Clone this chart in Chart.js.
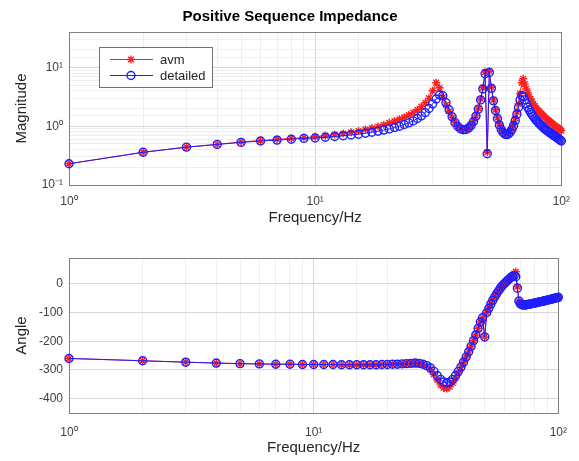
<!DOCTYPE html>
<html lang="en">
<head>
<meta charset="UTF-8">
<title>Positive Sequence Impedance</title>
<script src="https://cdn.jsdelivr.net/npm/chart.js@4"></script>
<style>
    body { margin: 0; background: #fff; }
    #wrap { position: relative; width: 579px; height: 461px; }
    canvas { position: absolute; left: 0; }
    #magChart { top: 0; }
    #angChart { top: 230px; }
</style>
</head>
<body>
<div id="wrap">
    <canvas id="magChart" width="579" height="230"></canvas>
    <canvas id="angChart" width="579" height="231"></canvas>
</div>
<script>
// frequency points, Hz
const freq = [
    1, 2, 3, 4, 5, 6, 7, 8, 9, 10,
    11, 12, 13, 14, 15, 16, 17, 18, 19, 20,
    21, 22, 23, 24, 25, 26, 27, 28, 29, 30,
    31, 32, 33, 34, 35, 36, 37, 38, 39, 40,
    41, 42, 43, 44, 45, 46, 47, 48, 49, 50,
    51, 52, 53, 54, 55, 56, 57, 58, 59, 60,
    61, 62, 63, 64, 65, 66, 67, 68, 69, 70,
    71, 72, 73, 74, 75, 76, 77, 78, 79, 80,
    81, 82, 83, 84, 85, 86, 87, 88, 89, 90,
    91, 92, 93, 94, 95, 96, 97, 98, 99, 100
];

// magnitude
const avmMag = [
    0.23, 0.36, 0.44, 0.49, 0.54, 0.57, 0.60, 0.62, 0.64, 0.66,
    0.69, 0.72, 0.75, 0.79, 0.83, 0.88, 0.93, 0.99, 1.06, 1.14,
    1.22, 1.31, 1.42, 1.55, 1.70, 1.90, 2.15, 2.50, 3.00, 4.00,
    5.50, 4.50, 3.10, 2.30, 1.80, 1.42, 1.17, 1.01, 0.93, 0.89,
    0.90, 0.95, 1.05, 1.22, 1.50, 2.00, 2.90, 4.50, 8.30, 0.36,
    8.60, 4.60, 2.80, 1.90, 1.40, 1.10, 0.92, 0.82, 0.77, 0.76,
    0.78, 0.84, 0.94, 1.10, 1.35, 1.75, 2.40, 3.60, 5.50, 6.40,
    5.20, 4.30, 3.70, 3.20, 2.90, 2.60, 2.40, 2.20, 2.05, 1.92,
    1.81, 1.71, 1.62, 1.54, 1.47, 1.40, 1.34, 1.28, 1.23, 1.18,
    1.14, 1.10, 1.06, 1.02, 0.99, 0.96, 0.93, 0.90, 0.87, 0.84
];
const detMag = [
    0.23, 0.36, 0.44, 0.49, 0.53, 0.56, 0.58, 0.60, 0.62, 0.63,
    0.65, 0.67, 0.69, 0.71, 0.73, 0.76, 0.79, 0.82, 0.86, 0.90,
    0.95, 1.00, 1.07, 1.14, 1.23, 1.35, 1.50, 1.70, 2.00, 2.40,
    2.90, 3.40, 3.30, 2.50, 1.90, 1.45, 1.15, 0.99, 0.90, 0.87,
    0.88, 0.93, 1.03, 1.20, 1.48, 1.95, 2.80, 4.30, 7.80, 0.34,
    8.20, 4.40, 2.70, 1.85, 1.35, 1.05, 0.88, 0.78, 0.73, 0.72,
    0.74, 0.79, 0.88, 1.02, 1.25, 1.60, 2.10, 2.80, 3.30, 3.20,
    2.80, 2.40, 2.10, 1.90, 1.72, 1.58, 1.46, 1.36, 1.27, 1.20,
    1.13, 1.07, 1.02, 0.97, 0.93, 0.89, 0.86, 0.83, 0.80, 0.77,
    0.75, 0.72, 0.70, 0.68, 0.66, 0.64, 0.62, 0.60, 0.58, 0.56
];

// angle, degrees
const avmAng = [
    -260, -268, -273, -276, -278, -279, -280, -280, -281, -281,
    -281, -281, -282, -282, -282, -282, -282, -282, -281, -281,
    -280, -280, -279, -278, -277, -276, -277, -280, -287, -298,
    -315, -335, -352, -363, -365, -358, -345, -328, -310, -292,
    -273, -255, -237, -218, -198, -178, -155, -133, -118, -185,
    -100, -85, -70, -57, -45, -34, -24, -15, -7, 0,
    6, 12, 18, 24, 30, 36, 42, -10, -60, -70,
    -73, -74, -74, -73, -72, -71, -70, -69, -68, -67,
    -66, -65, -64, -63, -62, -61, -60, -59, -58, -57,
    -56, -55, -54, -53, -52, -51, -50, -49, -48, -47
];
const detAng = [
    -260, -268, -273, -276, -278, -279, -280, -280, -281, -281,
    -281, -281, -282, -282, -282, -282, -282, -282, -281, -281,
    -280, -280, -279, -278, -277, -276, -277, -280, -285, -293,
    -305, -320, -333, -342, -345, -342, -333, -320, -305, -290,
    -273, -255, -237, -218, -198, -178, -155, -133, -118, -185,
    -100, -85, -70, -57, -45, -34, -24, -15, -7, 0,
    6, 12, 17, 22, 26, 28, 25, -15, -60, -70,
    -73, -74, -74, -73, -72, -71, -70, -69, -68, -67,
    -66, -65, -64, -63, -62, -61, -60, -59, -58, -57,
    -56, -55, -54, -53, -52, -51, -50, -49, -48, -47
];

const angTicks = [-400, -300, -200, -100, 0];

const FONT = '"Liberation Sans", Arial, sans-serif';
const RED = '#ff1e1e';
const BLUE = '#1e1eff';
const TXT = '#262626';

const SUP = { '-': '\u207b', '0': '\u2070', '1': '\u00b9', '2': '\u00b2' };
function isDecade(v) {
    const l = Math.log10(v);
    return Math.abs(l - Math.round(l)) < 1e-6;
}
function decadeLabel(v) {
    if (!isDecade(v)) return '';
    return '10' + String(Math.round(Math.log10(v))).split('').map(c => SUP[c]).join('');
}
function logGrid(ctx) {
    return ctx.tick && isDecade(ctx.tick.value) ? '#d6d6d6' : '#eeeeee';
}
function pts(ys) {
    return freq.map((f, i) => ({ x: f, y: ys[i] }));
}
// detailed (blue) is plotted after avm, so it sits on top
function datasets(a, d) {
    return [
        {
            label: 'avm', data: pts(a), order: 1,
            borderColor: RED, backgroundColor: RED, borderWidth: 1,
            pointStyle: 'star', pointRadius: 4, pointBorderColor: RED,
            pointBackgroundColor: RED, pointBorderWidth: 1.4, clip: 8
        },
        {
            label: 'detailed', data: pts(d), order: 0,
            borderColor: BLUE, backgroundColor: BLUE, borderWidth: 1,
            pointStyle: 'circle', pointRadius: 4, pointBorderColor: BLUE,
            pointBackgroundColor: 'rgba(0,0,0,0)', pointBorderWidth: 1.4, clip: 8
        }
    ];
}

// axes box, drawn like the matlab one
const boxPlugin = {
    id: 'box',
    beforeDatasetsDraw(chart) {
        const a = chart.chartArea, c = chart.ctx;
        c.save();
        c.strokeStyle = '#808080';
        c.lineWidth = 1;
        c.strokeRect(Math.round(a.left) + 0.5, Math.round(a.top) + 0.5,
            Math.round(a.right - a.left), Math.round(a.bottom - a.top));
        c.restore();
    }
};

const legendPlugin = {
    id: 'boxLegend',
    afterDraw(chart) {
        const a = chart.chartArea, c = chart.ctx;
        const x = Math.round(a.left) + 30, y = Math.round(a.top) + 15, w = 113, h = 40;
        c.save();
        c.fillStyle = '#fff';
        c.fillRect(x, y, w, h);
        c.strokeStyle = '#707070';
        c.lineWidth = 1;
        c.strokeRect(x + 0.5, y + 0.5, w, h);
        c.font = '13px ' + FONT;
        c.textBaseline = 'middle';
        chart.data.datasets.forEach((ds, i) => {
            const ly = y + 12 + i * 16;
            c.strokeStyle = ds.borderColor;
            c.lineWidth = 1;
            c.beginPath();
            c.moveTo(x + 11, ly + 0.5);
            c.lineTo(x + 54, ly + 0.5);
            c.stroke();
            c.fillStyle = ds.pointBackgroundColor;
            c.lineWidth = 1.4;
            Chart.helpers.drawPoint(c, { pointStyle: ds.pointStyle, radius: 4, borderWidth: 1.4, rotation: 0 }, x + 32, ly + 0.5);
            c.fillStyle = TXT;
            c.fillText(ds.label, x + 61, ly + 1);
        });
        c.restore();
    }
};

function xAxis(tickPad, height) {
    return {
        type: 'logarithmic', min: 1, max: 100,
        border: { display: false },
        grid: { color: logGrid, drawTicks: false },
        ticks: {
            autoSkip: false, maxRotation: 0, padding: tickPad,
            color: '#404040', font: { family: FONT, size: 12 },
            callback: v => decadeLabel(v)
        },
        title: {
            display: true, text: 'Frequency/Hz', color: TXT, padding: 0,
            font: { family: FONT, size: 15 }
        },
        afterFit: s => { s.height = height; }
    };
}
function yTitle(text) {
    return { display: true, text: text, color: TXT, padding: 0, font: { family: FONT, size: 15 } };
}

new Chart(document.getElementById('magChart'), {
    type: 'line',
    data: { datasets: datasets(avmMag, detMag) },
    options: {
        responsive: false, animation: false, devicePixelRatio: 1,
        layout: { padding: { left: 13, right: 12, top: 0, bottom: 3 } },
        plugins: {
            legend: { display: false },
            tooltip: { enabled: false },
            title: {
                display: true, text: 'Positive Sequence Impedance', color: '#000',
                font: { family: FONT, size: 15, weight: 'bold' },
                padding: { top: 8, bottom: 6 }
            }
        },
        scales: {
            x: xAxis(9, 42),
            y: {
                type: 'logarithmic', min: 0.1, max: 40,
                border: { display: false },
                grid: { color: logGrid, drawTicks: false },
                ticks: {
                    autoSkip: false, padding: 6, color: '#404040',
                    font: { family: FONT, size: 12 },
                    callback: v => decadeLabel(v)
                },
                title: yTitle('Magnitude'),
                afterFit: s => { s.width = 56; }
            }
        }
    },
    plugins: [boxPlugin, legendPlugin]
});

new Chart(document.getElementById('angChart'), {
    type: 'line',
    data: { datasets: datasets(avmAng, detAng) },
    options: {
        responsive: false, animation: false, devicePixelRatio: 1,
        layout: { padding: { left: 13, right: 12, top: 28, bottom: 4 } },
        plugins: {
            legend: { display: false },
            tooltip: { enabled: false }
        },
        scales: {
            x: xAxis(12, 44),
            y: {
                type: 'linear', min: -450, max: 90,
                border: { display: false },
                grid: { color: '#d6d6d6', drawTicks: false },
                afterBuildTicks: s => { s.ticks = angTicks.map(v => ({ value: v })); },
                ticks: {
                    padding: 6, color: '#404040',
                    font: { family: FONT, size: 12 },
                    callback: v => String(v)
                },
                title: yTitle('Angle'),
                afterFit: s => { s.width = 56; }
            }
        }
    },
    plugins: [boxPlugin]
});
</script>
</body>
</html>
